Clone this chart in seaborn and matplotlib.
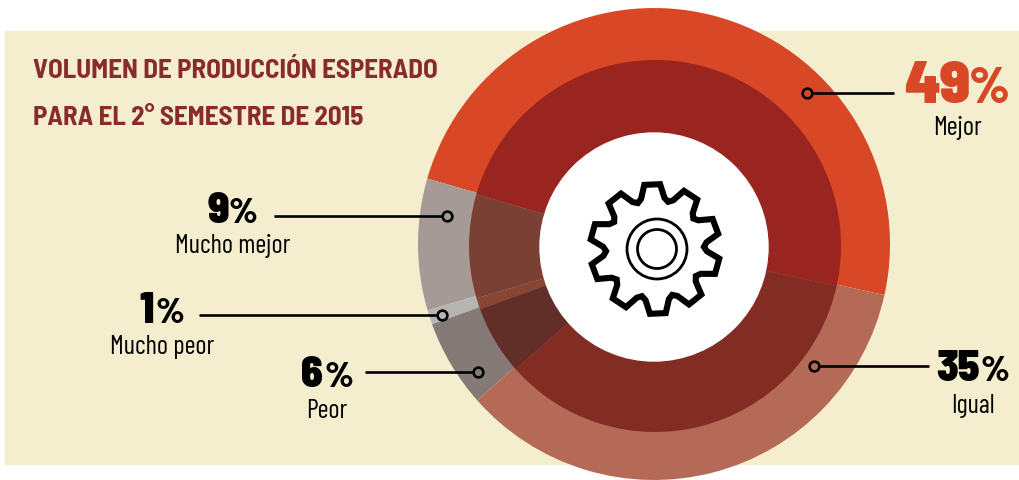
import numpy as np
import matplotlib
matplotlib.use('Agg')
import matplotlib.pyplot as plt
from matplotlib.patches import Rectangle, Polygon, Circle
import seaborn as sns

W, H = 1020, 481

# values
categories = ['Mejor', 'Mucho mejor', 'Mucho peor', 'Peor', 'Igual']
values = [49, 9, 1, 6, 35]
outer_colors = ['#d84826', '#a59a96', '#b5b5b3', '#857a76', '#b56a57']
inner_colors = ['#9a241f', '#7a4034', '#8a4532', '#622f28', '#822c24']
title_lines = ['VOLUMEN DE PRODUCCIÓN ESPERADO', 'PARA EL 2° SEMESTRE DE 2015']

# narrow fonts first, the plain ones are there if those are missing
LABEL_FONT = ['Barlow Condensed', 'Liberation Sans', 'DejaVu Sans']
HEAVY_FONT = ['Barlow Semi Condensed', 'Liberation Sans', 'DejaVu Sans']

sns.set_theme(style='white')
plt.rcParams['font.family'] = LABEL_FONT

fig = plt.figure(figsize=(W / 100, H / 100), dpi=100, facecolor='white')
ax = fig.add_axes([0, 0, 1, 1])

def py(y):
    return H - y

ax.add_patch(Rectangle((5, py(465)), W - 5, 433, color='#f4eecf', zorder=0))

# two rings, same slices
start = -12.5
ax.pie(values, colors=outer_colors, startangle=start, center=(654, py(245)),
       radius=236, frame=True, wedgeprops=dict(linewidth=0))
ax.pie(values, colors=inner_colors, startangle=start, center=(655, py(247)),
       radius=186, frame=True, wedgeprops=dict(linewidth=0))
ax.add_patch(Circle((654, py(248)), 114, color='white', zorder=5))

# gear icon
gx, gy = 655, py(250)
pts = []
for i in range(10):
    a = 92.5 - i * 36
    for da, r in [(13, 52), (7, 65), (-7, 65), (-13, 52), (-18, 49)]:
        t = np.deg2rad(a + da)
        pts.append((gx + r * np.cos(t), gy + r * np.sin(t)))
ax.add_patch(Polygon(pts, closed=True, fill=False, ec='black', lw=4.4, joinstyle='miter', zorder=6))
ax.add_patch(Circle((657, py(250)), 30, fill=False, ec='black', lw=2, zorder=6))
ax.add_patch(Circle((657, py(250)), 19.5, fill=False, ec='black', lw=2, zorder=6))

# title
for line, y in zip(title_lines, [78, 125]):
    ax.text(33, py(y), line, color='#8a2b2b', fontsize=19.5, fontweight='bold', family=HEAVY_FONT,
            va='baseline', ha='left', zorder=7)

def callout(num, x_num, x_pct, base, size, name, x_name, y_name, x_end, x_dot, y, color='black'):
    step = 5 if x_end > x_dot else -5
    ax.plot([x_end, x_dot + step], [py(y), py(y)], color='black', lw=1.9, zorder=7, solid_capstyle='butt')
    ax.plot([x_dot], [py(y)], 'o', ms=7, mfc='none', mec='black', mew=1.9, zorder=8)
    ax.text(x_num, py(base), num, color=color, fontsize=size, fontweight=900, family=HEAVY_FONT,
            ha='left', va='baseline', zorder=8)
    ax.text(x_pct, py(base), '%', color=color, fontsize=size * 0.85, fontweight=800, family=HEAVY_FONT,
            ha='left', va='baseline', zorder=8)
    ax.text(x_name, py(y_name), name, color='black', fontsize=19, ha='center', va='baseline', zorder=8)

callout('49', 904, 969, 103, 44, categories[0], 958, 135, 894, 807, 94, color='#d84826')
callout('9', 208, 229, 223, 31, categories[1], 233, 253, 274, 447, 217)
callout('1', 139, 156, 323, 31, categories[2], 162, 354, 199, 442, 316)
callout('6', 301, 325, 387, 31, categories[3], 327, 418, 365, 478, 373)
callout('35', 936, 981, 381, 31, categories[4], 973, 413, 929, 814, 367)

ax.set_xlim(0, W)
ax.set_ylim(0, H)
ax.set_aspect('equal')
ax.axis('off')
fig.savefig('out.png', dpi=100, facecolor='white')
